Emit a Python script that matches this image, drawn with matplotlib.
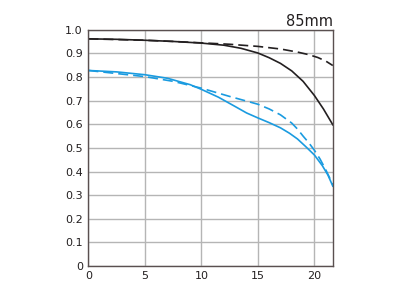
import numpy as np
import matplotlib.pyplot as plt

# image height (mm) and MTF values
x_black = [0, 2.5, 5, 7.5, 10, 12, 13.5, 15, 16, 17, 18, 19, 20, 20.8, 21.63]
black_solid = [0.962, 0.960, 0.956, 0.951, 0.944, 0.935, 0.922, 0.902, 0.882, 0.858, 0.826, 0.782, 0.722, 0.665, 0.598]

x_black_d = [0, 2.5, 5, 7.5, 10, 12.5, 15, 17, 18.5, 19.5, 20.3, 21, 21.63]
black_dash = [0.962, 0.959, 0.956, 0.951, 0.945, 0.939, 0.930, 0.919, 0.906, 0.895, 0.883, 0.868, 0.849]

x_blue = [0, 2.5, 5, 7, 9, 10, 11.5, 13, 14, 15, 16, 17, 17.8, 18.5, 19.2, 20, 20.7, 21.2, 21.63]
blue_solid = [0.828, 0.822, 0.810, 0.795, 0.768, 0.748, 0.715, 0.675, 0.648, 0.627, 0.607, 0.585, 0.562, 0.538, 0.507, 0.470, 0.425, 0.385, 0.338]

x_blue_d = [0, 2.5, 5, 7.5, 10, 12.5, 15, 16, 17, 18, 18.5, 19, 19.5, 20, 20.5, 21, 21.63]
blue_dash = [0.828, 0.815, 0.802, 0.782, 0.753, 0.718, 0.685, 0.665, 0.640, 0.605, 0.580, 0.550, 0.522, 0.490, 0.453, 0.408, 0.345]

xticks = [0, 5, 10, 15, 20]
yticks = np.arange(0, 1.01, 0.1)

fig = plt.figure(figsize=(4, 2.9), dpi=100)
ax = fig.add_axes([0.221, 0.083, 0.611, 0.814])

blue = '#1a9be0'
ax.plot(x_black, black_solid, color='#231f20', lw=1.2)
ax.plot(x_black_d, black_dash, color='#231f20', lw=1.2, dashes=(6, 3))
ax.plot(x_blue, blue_solid, color=blue, lw=1.2)
ax.plot(x_blue_d, blue_dash, color=blue, lw=1.2, dashes=(6, 3))

ax.set_xlim(0, 21.63)
ax.set_ylim(0, 1.0)
ax.set_xticks(xticks)
ax.set_yticks(yticks)
ax.set_yticklabels([f'{v:.1f}' if v > 0 else '0' for v in yticks])
ax.grid(True, color='#b5b5b5', lw=1)
ax.set_axisbelow(True)
ax.tick_params(length=0, labelsize=8, pad=4, colors='#231f20')
for s in ax.spines.values():
    s.set_color('#5a5050')
    s.set_linewidth(1)

ax.set_title('85mm', loc='right', fontsize=10.5, pad=3, color='#231f20')

fig.savefig('out.png', dpi=100)
